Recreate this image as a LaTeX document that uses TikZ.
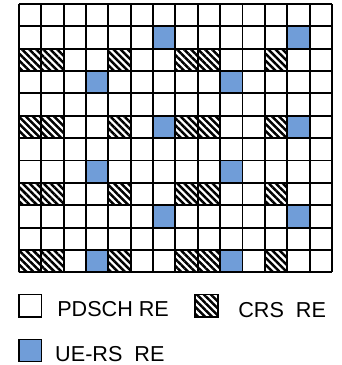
\documentclass[tikz,border=0pt]{standalone}
\usepackage{fontspec}
\setmainfont{Liberation Sans}
\usepackage{tikz}
\usetikzlibrary{patterns.meta}

\definecolor{uers}{RGB}{112,157,216}

\begin{document}
\begin{tikzpicture}[x=0.6cm, y=-0.6cm,
    re/.style={draw=black, line width=1.2pt},
    crs/.style={pattern={Lines[angle=-45, distance=3.8pt, line width=1.9pt]}},
    lbl/.style={anchor=base west, inner sep=0pt, font=\fontsize{16.5}{19}\selectfont}]

    \useasboundingbox (-0.85,-0.18) rectangle (14.41,16.15);

    % CRS
    \foreach \r in {2,5,8,11} {
        \foreach \c in {0,1,4,7,8,11} {
            \fill[crs] (\c,\r) rectangle ++(1,1);
        }
    }

    % UE-RS
    \foreach \c/\r in {6/1,12/1,3/3,9/3,6/5,12/5,3/7,9/7,6/9,12/9,3/11,9/11} {
        \fill[uers] (\c,\r) rectangle ++(1,1);
    }

    % Grid
    \foreach \c in {0,...,14} {
        \draw[line width=1.5pt] (\c,0) -- (\c,12);
    }
    \foreach \r in {0,...,12} {
        \draw[line width=1.5pt] (0,\r) -- (14,\r);
    }

    % Legend
    \draw[re, fill=white] (0,13) rectangle (1,14);
    \node[lbl] (pdsch) at (1.7,13.96) {PDSCH RE};
    \draw[re, crs] (7.87,13) rectangle (8.9,14);
    \node[lbl] (crsre) at (9.8,14.03) {CRS~~RE};
    \draw[re, fill=uers] (0,15) rectangle (1,16);
    \node[lbl] (uersre) at (1.61,16.0) {UE-RS~~RE};

\end{tikzpicture}
\end{document}
